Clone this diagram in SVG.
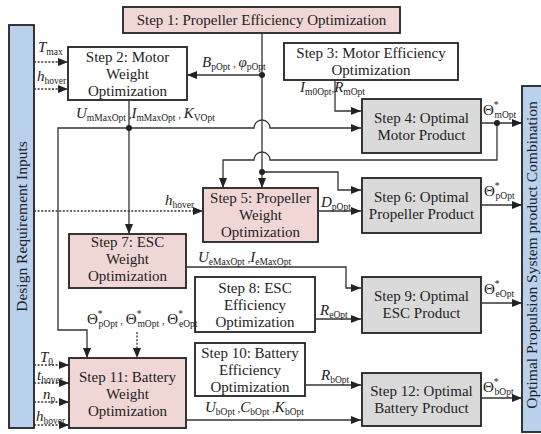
<svg xmlns="http://www.w3.org/2000/svg" width="541" height="434" viewBox="0 0 541 434">
<style>
.box{stroke:#222;stroke-width:1.8}
.pink{fill:#f1d6d6}
.gray{fill:#dadada}
.white{fill:#fff}
.blue{fill:#b9d1ec;stroke:#222;stroke-width:1.8}
.t{font-family:"Liberation Serif","Times New Roman",serif;font-size:15px;fill:#222;text-anchor:middle}
.bar{font-family:"Liberation Serif","Times New Roman",serif;font-size:15.5px;fill:#222;text-anchor:middle}
.lab{font-family:"Liberation Serif","Times New Roman",serif;font-size:15px;fill:#222}
.i{font-style:italic}
.s{font-size:9.5px;font-style:normal}
.c{font-size:11px}
.ln{fill:none;stroke:#333;stroke-width:1.3}
.arr{marker-end:url(#ah)}
.dot{stroke-dasharray:2 1.6}
</style>
<defs>
<marker id="ah" markerUnits="userSpaceOnUse" markerWidth="10" markerHeight="8" refX="10" refY="4" orient="auto">
<path d="M0,0 L10,4 L0,8 z" fill="#222"/>
</marker>
</defs>

<g id="design-inputs">
<rect class="blue" x="9" y="25" width="25" height="403"/>
<text class="bar" font-size="16" transform="translate(27,226.5) rotate(-90)">Design Requirement Inputs</text>
</g>
<g id="combination">
<rect class="blue" x="522" y="86" width="24" height="346"/>
<text class="bar" transform="translate(537,255) rotate(-90)">Optimal Propulsion System product Combination</text>
</g>

<g id="step1">
<rect class="box pink" x="123" y="7" width="277" height="26"/>
<text class="t" x="261.5" y="25">Step 1: Propeller Efficiency Optimization</text>
</g>
<g id="step2">
<rect class="box white" x="68" y="47" width="119" height="53"/>
<text class="t" x="127.5" y="61.5">Step 2: Motor</text>
<text class="t" x="127.5" y="78.5">Weight</text>
<text class="t" x="127.5" y="95.5">Optimization</text>
</g>
<g id="step3">
<rect class="box white" x="284" y="43" width="174" height="37"/>
<text class="t" x="371" y="57.5">Step 3: Motor Efficiency</text>
<text class="t" x="371" y="74.5">Optimization</text>
</g>
<g id="step4">
<rect class="box gray" x="362" y="99" width="119" height="54"/>
<text class="t" x="421.5" y="122.5">Step 4: Optimal</text>
<text class="t" x="421.5" y="139.5">Motor Product</text>
</g>
<g id="step5">
<rect class="box pink" x="203" y="188" width="115" height="54"/>
<text class="t" x="260.5" y="203">Step 5: Propeller</text>
<text class="t" x="260.5" y="220">Weight</text>
<text class="t" x="260.5" y="237">Optimization</text>
</g>
<g id="step6">
<rect class="box gray" x="362" y="178" width="119" height="55"/>
<text class="t" x="421.5" y="202">Step 6: Optimal</text>
<text class="t" x="421.5" y="219">Propeller Product</text>
</g>
<g id="step7">
<rect class="box pink" x="69" y="234" width="117" height="54"/>
<text class="t" x="127.5" y="247">Step 7: ESC</text>
<text class="t" x="127.5" y="264">Weight</text>
<text class="t" x="127.5" y="281">Optimization</text>
</g>
<g id="step8">
<rect class="box white" x="195" y="277" width="120" height="55"/>
<text class="t" x="255" y="292.5">Step 8: ESC</text>
<text class="t" x="255" y="309.5">Efficiency</text>
<text class="t" x="255" y="326.5">Optimization</text>
</g>
<g id="step9">
<rect class="box gray" x="362" y="277" width="119" height="56"/>
<text class="t" x="421.5" y="301">Step 9: Optimal</text>
<text class="t" x="421.5" y="318">ESC Product</text>
</g>
<g id="step10">
<rect class="box white" x="195" y="343" width="110" height="53"/>
<text class="t" x="250" y="357.5">Step 10: Battery</text>
<text class="t" x="250" y="374.5">Efficiency</text>
<text class="t" x="250" y="391.5">Optimization</text>
</g>
<g id="step11">
<rect class="box pink" x="69" y="358" width="117" height="70"/>
<text class="t" x="127.5" y="382">Step 11: Battery</text>
<text class="t" x="127.5" y="399">Weight</text>
<text class="t" x="127.5" y="416">Optimization</text>
</g>
<g id="step12">
<rect class="box gray" x="362" y="373" width="119" height="53"/>
<text class="t" x="421.5" y="396">Step 12: Optimal</text>
<text class="t" x="421.5" y="413">Battery Product</text>
</g>

<g id="connectors">
<path class="ln arr dot" d="M34,62 H68"/>
<path class="ln arr dot" d="M34,89 H68"/>
<path class="ln arr" d="M262,33 V188"/>
<path class="ln arr" d="M262,75 H187"/>
<path class="ln arr" d="M262,172 H338 V190 H361"/>
<path class="ln arr" d="M129,100 V234"/>
<path class="ln arr" d="M129,128 H254 A8,8 0 0 1 270,128 H361"/>
<path class="ln arr" d="M129,128 H58 V330 H87 V358"/>
<path class="ln arr" d="M335,80 V111 H361"/>
<path class="ln arr" d="M481,123 H522"/>
<path class="ln arr" d="M497,123 V160 H270 A8,8 0 0 0 254,160 H223 V188"/>
<path class="ln arr dot" d="M34,211 H203"/>
<path class="ln arr" d="M318,211 H361"/>
<path class="ln arr" d="M481,205 H522"/>
<path class="ln arr" d="M186,267 H346 V288 H361"/>
<path class="ln arr" d="M315,319 H361"/>
<path class="ln arr" d="M481,303 H522"/>
<path class="ln arr dot" d="M137,332 V358"/>
<path class="ln arr dot" d="M34,365 H69"/>
<path class="ln arr dot" d="M34,383 H69"/>
<path class="ln arr dot" d="M34,402 H69"/>
<path class="ln arr dot" d="M34,425 H69"/>
<path class="ln arr" d="M305,385 H361"/>
<path class="ln arr" d="M186,420 H361"/>
<path class="ln arr" d="M481,398 H522"/>
<circle cx="129" cy="128" r="3" fill="#222"/>
<circle cx="262" cy="75" r="3" fill="#222"/>
<circle cx="262" cy="172" r="3" fill="#222"/>
<circle cx="497" cy="123" r="3" fill="#222"/>
</g>

<g id="labels">
<text class="lab" x="38" y="52"><tspan class="i">T</tspan><tspan class="s" dy="3">max</tspan></text>
<text class="lab" x="37" y="81"><tspan class="i">h</tspan><tspan class="s" dy="3">hover</tspan></text>
<text class="lab" x="202" y="67"><tspan class="i">B</tspan><tspan class="s" dy="3">pOpt</tspan><tspan class="c" dy="-3"> , </tspan><tspan class="i">φ</tspan><tspan class="s" dy="3">pOpt</tspan></text>
<text class="lab" x="76" y="118"><tspan class="i">U</tspan><tspan class="s" dy="3">mMaxOpt</tspan><tspan class="c" dy="-3"> ,</tspan><tspan class="i">I</tspan><tspan class="s" dy="3">mMaxOpt</tspan><tspan class="c" dy="-3"> , </tspan><tspan class="i">K</tspan><tspan class="s" dy="3">VOpt</tspan></text>
<text class="lab" x="300" y="92"><tspan class="i">I</tspan><tspan class="s" dy="3">m0Opt</tspan><tspan class="c" dy="-3">,</tspan><tspan class="i">R</tspan><tspan class="s" dy="3">mOpt</tspan></text>
<text class="lab" x="483" y="115">Θ<tspan class="s" dy="-7">*</tspan><tspan class="s" dx="-4" dy="10">mOpt</tspan></text>
<text class="lab" x="165" y="205"><tspan class="i">h</tspan><tspan class="s" dy="3">hover</tspan></text>
<text class="lab" x="321" y="207"><tspan class="i">D</tspan><tspan class="s" dy="3">pOpt</tspan></text>
<text class="lab" x="484" y="196">Θ<tspan class="s" dy="-7">*</tspan><tspan class="s" dx="-4" dy="10">pOpt</tspan></text>
<text class="lab" x="198" y="262"><tspan class="i">U</tspan><tspan class="s" dy="3">eMaxOpt</tspan><tspan class="c" dy="-3"> ,</tspan><tspan class="i">I</tspan><tspan class="s" dy="3">eMaxOpt</tspan></text>
<text class="lab" x="320" y="315"><tspan class="i">R</tspan><tspan class="s" dy="3">eOpt</tspan></text>
<text class="lab" x="484" y="294">Θ<tspan class="s" dy="-7">*</tspan><tspan class="s" dx="-4" dy="10">eOpt</tspan></text>
<text class="lab" x="87" y="324">Θ<tspan class="s" dy="-7">*</tspan><tspan class="s" dx="-4" dy="10">pOpt</tspan><tspan class="c" dy="-3"> , </tspan>Θ<tspan class="s" dy="-7">*</tspan><tspan class="s" dx="-4" dy="10">mOpt</tspan><tspan class="c" dy="-3"> , </tspan>Θ<tspan class="s" dy="-7">*</tspan><tspan class="s" dx="-4" dy="10">eOpt</tspan></text>
<text class="lab" x="321" y="380"><tspan class="i">R</tspan><tspan class="s" dy="3">bOpt</tspan></text>
<text class="lab" x="205" y="412"><tspan class="i">U</tspan><tspan class="s" dy="3">bOpt</tspan><tspan class="c" dy="-3"> ,</tspan><tspan class="i">C</tspan><tspan class="s" dy="3">bOpt</tspan><tspan class="c" dy="-3"> ,</tspan><tspan class="i">K</tspan><tspan class="s" dy="3">bOpt</tspan></text>
<text class="lab" x="483" y="392">Θ<tspan class="s" dy="-7">*</tspan><tspan class="s" dx="-4" dy="10">bOpt</tspan></text>
<text class="lab" x="40" y="362"><tspan class="i">T</tspan><tspan class="s" dy="3">0</tspan></text>
<text class="lab" x="37" y="380"><tspan class="i">t</tspan><tspan class="s" dy="3">hover</tspan></text>
<text class="lab" x="43" y="399"><tspan class="i">n</tspan><tspan class="s" dy="3">p</tspan></text>
<text class="lab" x="36" y="421"><tspan class="i">h</tspan><tspan class="s" dy="3">hover</tspan></text>
</g>
</svg>
